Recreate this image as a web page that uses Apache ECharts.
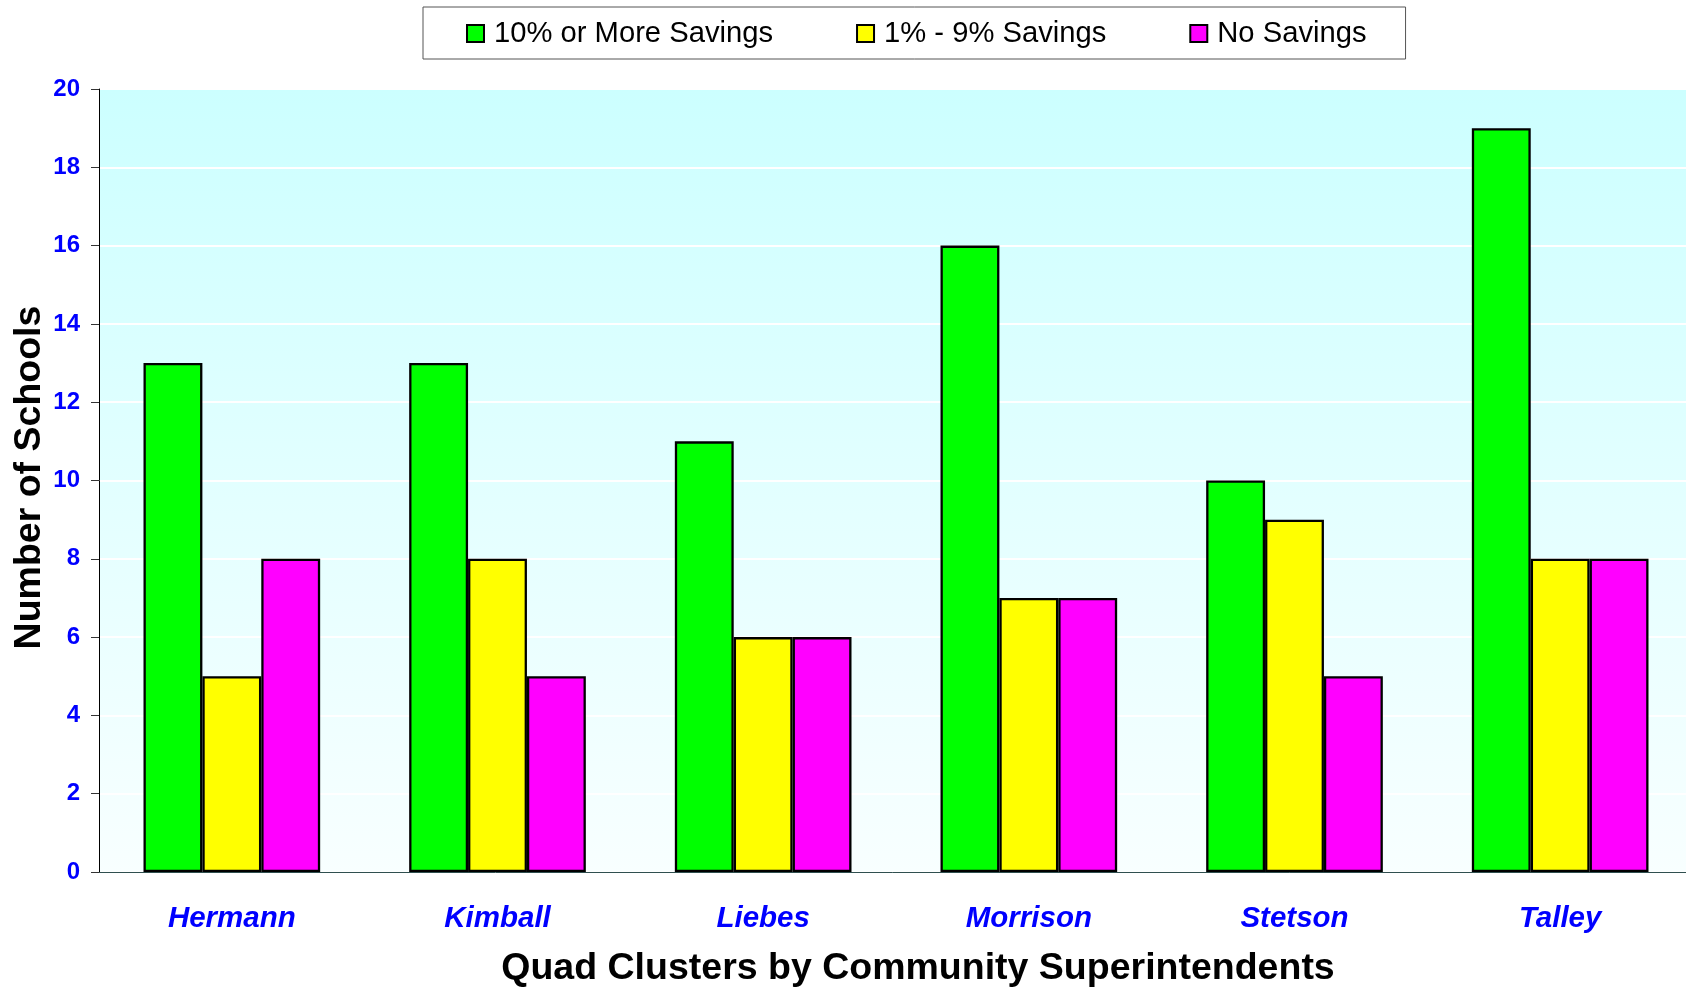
<!DOCTYPE html>
<html>
<head>
<meta charset="utf-8">
<script src="https://cdn.jsdelivr.net/npm/echarts@6/dist/echarts.min.js"></script>
<style>
  html, body { margin: 0; padding: 0; background: #fff; }
  #chart { width: 1686px; height: 987px; }
</style>
</head>
<body>
<div id="chart"></div>
<script>
// values
const clusters = ['Hermann', 'Kimball', 'Liebes', 'Morrison', 'Stetson', 'Talley'];
const tenOrMore = [13, 13, 11, 16, 10, 19];
const oneToNine = [5, 8, 6, 7, 9, 8];
const noSavings = [8, 5, 6, 7, 5, 8];
const seriesNames = ['10% or More Savings', '1% - 9% Savings', 'No Savings'];
const seriesColors = ['#00FF00', '#FFFF00', '#FF00FF'];

const font = '"Liberation Sans", Arial, sans-serif';

function barSeries(name, data, color) {
    return {
        name: name,
        type: 'bar',
        data: data,
        barGap: '0%',
        barCategoryGap: '33.5%',
        itemStyle: {
            color: color,
            borderColor: '#000',
            borderWidth: 2.3
        }
    };
}

let myChart = echarts.init(document.getElementById('chart'));
myChart.setOption({
    animation: false,
    textStyle: { fontFamily: font },
    legend: {
        data: seriesNames,
        left: 423,
        top: 7,
        padding: [12, 39, 11, 43],
        itemWidth: 17,
        itemHeight: 17,
        itemGap: 83,
        icon: 'rect',
        backgroundColor: '#fff',
        borderColor: '#555',
        borderWidth: 1,
        textStyle: {
            fontFamily: font,
            fontSize: 29.2,
            color: '#000',
            padding: [0, 0, 0, 5]
        }
    },
    grid: {
        left: 99,
        right: -7,
        top: 89,
        bottom: 115,
        containLabel: false,
        outerBoundsMode: 'none',
        show: true,
        borderWidth: 0,
        backgroundColor: {
            type: 'linear', x: 0, y: 0, x2: 0, y2: 1,
            colorStops: [
                { offset: 0, color: '#CCFFFF' },
                { offset: 1, color: '#F8FFFF' }
            ]
        }
    },
    xAxis: {
        type: 'category',
        data: clusters,
        name: 'Quad Clusters by Community Superintendents',
        nameLocation: 'middle',
        nameGap: 78,
        nameMoveOverlap: false,
        nameTextStyle: {
            fontFamily: font,
            fontSize: 37.5,
            fontWeight: 'bold',
            color: '#000',
            padding: [0, 0, 0, 44]
        },
        axisLine: { lineStyle: { color: '#2f4f4f', width: 1 } },
        axisTick: { length: 9, lineStyle: { color: '#555' } },
        axisLabel: {
            margin: 32,
            fontFamily: font,
            fontSize: 29.5,
            fontWeight: 'bold',
            fontStyle: 'italic',
            color: '#0000FF'
        }
    },
    yAxis: {
        type: 'value',
        min: 0,
        max: 20,
        interval: 2,
        name: 'Number of Schools',
        nameLocation: 'middle',
        nameGap: 50,
        nameMoveOverlap: false,
        nameTextStyle: {
            fontFamily: font,
            fontSize: 37.5,
            fontWeight: 'bold',
            color: '#000',
            padding: [0, 0, 0, 6]
        },
        axisLine: { show: true, lineStyle: { color: '#000', width: 1 } },
        axisTick: { show: true, length: 8, lineStyle: { color: '#333' } },
        splitLine: { lineStyle: { color: '#fff', width: 2 } },
        axisLabel: {
            margin: 19,
            fontFamily: font,
            fontSize: 24,
            fontWeight: 'bold',
            color: '#0000FF'
        }
    },
    series: [
        barSeries(seriesNames[0], tenOrMore, seriesColors[0]),
        barSeries(seriesNames[1], oneToNine, seriesColors[1]),
        barSeries(seriesNames[2], noSavings, seriesColors[2])
    ]
});
</script>
</body>
</html>
